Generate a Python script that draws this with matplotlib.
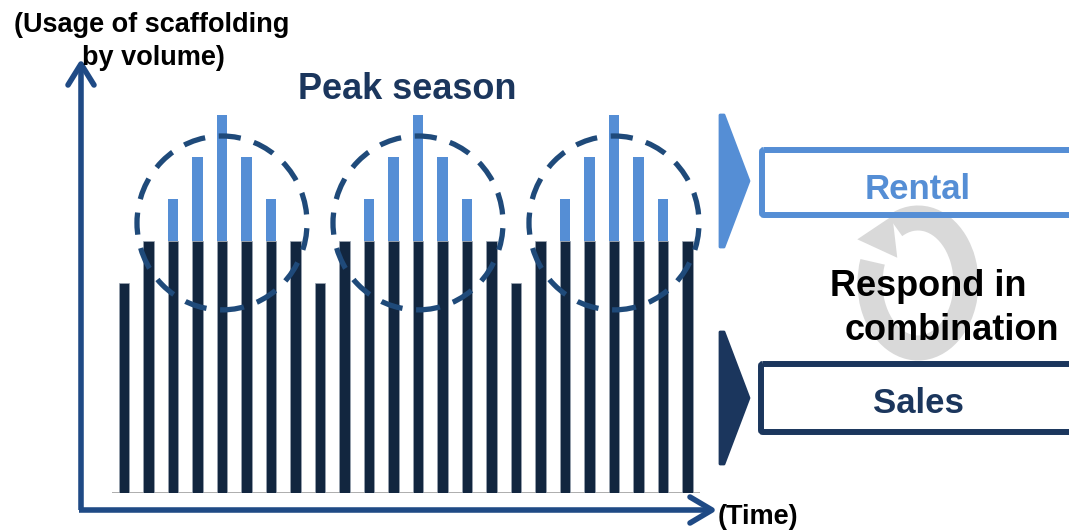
import matplotlib
matplotlib.use("Agg")
import matplotlib.pyplot as plt
from matplotlib.patches import Ellipse, Arc, Polygon, FancyBboxPatch
import numpy as np

plt.rcParams['font.family'] = ['Liberation Sans', 'DejaVu Sans']

# Usage of scaffolding per period (arbitrary units)
periods = list(range(24))
sales_volume = [5, 6, 6, 6, 6, 6, 6, 6,
                5, 6, 6, 6, 6, 6, 6, 6,
                5, 6, 6, 6, 6, 6, 6, 6]
rental_volume = [0, 0, 1, 2, 3, 2, 1, 0,
                 0, 0, 1, 2, 3, 2, 1, 0,
                 0, 0, 1, 2, 3, 2, 1, 0]
peak_periods = [4, 12, 20]

y_label_lines = ["(Usage of scaffolding", "by volume)"]
x_label = "(Time)"
peak_label = "Peak season"
rental_label = "Rental"
sales_label = "Sales"
combo_lines = ["Respond in", "combination"]

DARK = "#12263f"
LIGHT = "#558ed5"
NAVY = "#1b365d"
AXIS_BLUE = "#1f4a85"
DASH_BLUE = "#1f4a7a"
GREY = "#d9d9d9"

W, H = 1069, 530
fig = plt.figure(figsize=(W / 100, H / 100), dpi=100)

# Bar panel: placed in pixel terms so the bars line up with the decorations
x0, x1 = 111.75, 699.75
y_base, y_top = 493, 73
ax = fig.add_axes([x0 / W, (H - y_base) / H, (x1 - x0) / W, (y_base - y_top) / H])
ax.set_xlim(-0.5, 23.5)
ax.set_ylim(0, 10)
ax.axis('off')

ax.bar(periods, sales_volume, width=0.41, color=DARK, edgecolor="#9aa4b2",
       linewidth=0.5, zorder=2)
ax.bar(periods, rental_volume, width=0.41, bottom=sales_volume, color=LIGHT,
       linewidth=0, zorder=2)
ax.axhline(0, color="#a6a6a6", lw=2, zorder=1)

# Dashed rings around each peak season
for p in peak_periods:
    ax.add_patch(Ellipse((p, 6.43), 6.94, 4.14, fill=False, ec=DASH_BLUE,
                         lw=3.8, ls=(0, (4.2, 2.6)), zorder=3, clip_on=False))

# Overlay in pixel coordinates for arrows, boxes and labels
ov = fig.add_axes([0, 0, 1, 1], facecolor='none')
ov.set_xlim(0, W)
ov.set_ylim(H, 0)
ov.axis('off')

# Axes arrows
ov.plot([81, 81], [510, 65], color=AXIS_BLUE, lw=4, solid_capstyle='butt')
ov.plot([68, 81, 94], [85, 64, 85], color=AXIS_BLUE, lw=4,
        solid_capstyle='round', solid_joinstyle='round')
ov.plot([79, 712], [510, 510], color=AXIS_BLUE, lw=4, solid_capstyle='butt')
ov.plot([690, 712, 690], [497, 510, 523], color=AXIS_BLUE, lw=4,
        solid_capstyle='round', solid_joinstyle='round')

ov.text(152, 32, y_label_lines[0], ha='center', va='baseline', fontsize=19.5,
        fontweight='bold', color='black')
ov.text(153, 65, y_label_lines[1], ha='center', va='baseline', fontsize=19.5,
        fontweight='bold', color='black')
ov.text(718, 524, x_label, ha='left', va='baseline', fontsize=19.5,
        fontweight='bold', color='black')
ov.text(407, 99, peak_label, ha='center', va='baseline', fontsize=26,
        fontweight='bold', color=NAVY)

# Grey cycle arrow behind the combination label
cx, cy, rx, ry = 918, 283, 48, 65
ov.add_patch(Arc((cx, cy), 2 * rx, 2 * ry, theta1=-112, theta2=205,
                 color=GREY, lw=18, zorder=1))
th = np.deg2rad(212)
px, py = cx + rx * np.cos(th), cy + ry * np.sin(th)
d = np.array([-rx * np.sin(th), ry * np.cos(th)])
d = d / np.hypot(*d)
n = np.array([-d[1], d[0]])
base = np.array([px, py])
ov.add_patch(Polygon([base + 22 * n, base - 22 * n, base + 36 * d],
                     closed=True, color=GREY, lw=0, zorder=1))

# Chevrons pointing to the two offerings
ov.add_patch(Polygon([(720, 115), (724, 115), (749, 181), (724, 247), (720, 247)],
                     closed=True, fc=LIGHT, ec=LIGHT, lw=2, joinstyle='round', zorder=2))
ov.add_patch(Polygon([(720, 332), (724, 332), (749, 398), (724, 464), (720, 464)],
                     closed=True, fc=NAVY, ec=NAVY, lw=2, joinstyle='round', zorder=2))

# Offering boxes (run off the right edge)
ov.add_patch(FancyBboxPatch((762, 150), 340, 65, boxstyle="round,pad=0,rounding_size=2",
                            fill=False, ec=LIGHT, lw=4.3, zorder=2, clip_on=False))
ov.add_patch(FancyBboxPatch((761, 364), 340, 68, boxstyle="round,pad=0,rounding_size=2",
                            fill=False, ec=NAVY, lw=4.3, zorder=2, clip_on=False))

ov.text(918, 199, rental_label, ha='center', va='baseline', fontsize=25,
        fontweight='bold', color=LIGHT, zorder=3)
ov.text(918, 413, sales_label, ha='center', va='baseline', fontsize=25,
        fontweight='bold', color=NAVY, zorder=3)
ov.text(928, 296, combo_lines[0], ha='center', va='baseline', fontsize=26,
        fontweight='bold', color='black', zorder=3)
ov.text(952, 340, combo_lines[1], ha='center', va='baseline', fontsize=26,
        fontweight='bold', color='black', zorder=3)

fig.savefig("out.png", dpi=100)
